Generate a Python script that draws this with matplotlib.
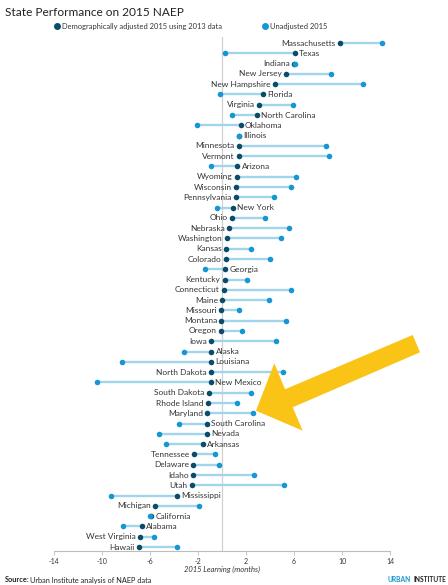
import matplotlib
matplotlib.use("Agg")
import matplotlib.pyplot as plt
from matplotlib.lines import Line2D
from matplotlib.patches import Polygon

plt.rcParams['font.family'] = ['Lato', 'DejaVu Sans']

states = ["Massachusetts", "Texas", "Indiana", "New Jersey", "New Hampshire", "Florida",
          "Virginia", "North Carolina", "Oklahoma", "Illinois", "Minnesota", "Vermont",
          "Arizona", "Wyoming", "Wisconsin", "Pennsylvania", "New York", "Ohio", "Nebraska",
          "Washington", "Kansas", "Colorado", "Georgia", "Kentucky", "Connecticut", "Maine",
          "Missouri", "Montana", "Oregon", "Iowa", "Alaska", "Louisiana", "North Dakota",
          "New Mexico", "South Dakota", "Rhode Island", "Maryland", "South Carolina", "Nevada",
          "Arkansas", "Tennessee", "Delaware", "Idaho", "Utah", "Mississippi", "Michigan",
          "California", "Alabama", "West Virginia", "Hawaii"]

adjusted = [9.83, 6.06, 6.0, 5.33, 4.39, 3.39,
            3.06, 2.89, 1.56, 1.45, 1.39, 1.39,
            1.28, 1.22, 1.17, 1.17, 0.89, 0.83, 0.61,
            0.39, 0.33, 0.33, 0.28, 0.22, 0.17, 0.0,
            -0.06, -0.06, -0.11, -0.89, -0.89, -0.89, -0.94,
            -0.94, -1.11, -1.17, -1.22, -1.28, -1.28,
            -1.56, -2.33, -2.39, -2.39, -2.5, -3.72, -5.56,
            -5.89, -6.67, -6.83, -6.94]

unadjusted = [13.33, 0.22, 6.11, 9.06, 11.78, -0.17,
              5.94, 0.83, -2.06, 1.39, 8.67, 8.89,
              -0.89, 6.17, 5.78, 4.33, -0.39, 3.61, 5.56,
              4.89, 2.39, 4.0, -1.39, 2.11, 5.78, 3.94,
              1.39, 5.33, 1.67, 4.5, -3.17, -8.33, 5.11,
              -10.44, 2.44, 1.28, 2.61, -3.56, -5.28,
              -4.67, -0.61, -0.22, 2.67, 5.17, -9.22, -1.94,
              -6.0, -8.28, -5.67, -3.78]

xticks = [-14, -10, -6, -2, 2, 6, 10, 14]
xtick_labels = ["-14", "-10", "-6", "-2", "2", "6", "10", "14"]

DARK = '#0a4c6a'
LIGHT = '#1696d2'
LINE = '#a2d4ec'
TEXT = '#353535'

W, H = 448, 585
fig = plt.figure(figsize=(W / 100, H / 100), dpi=100)
ax = fig.add_axes([54 / W, 1 - 551 / H, 336 / W, (551 - 37) / H])

n = len(states)
ys = list(range(n))
row = (547 - 43) / 49
ax.set_xlim(-14, 14)
ax.set_ylim(49 + (551 - 547) / row, -(43 - 37) / row)

ax.axvline(0, color='#d0d0d0', lw=0.9, zorder=0)
for y, a, u in zip(ys, adjusted, unadjusted):
    ax.plot([a, u], [y, y], color=LINE, lw=1.7, solid_capstyle='butt', zorder=1)
ax.scatter(adjusted, ys, s=16, color=DARK, zorder=2, linewidths=0)
ax.scatter(unadjusted, ys, s=16, color=LIGHT, zorder=3, linewidths=0)

for y, a, u, name in zip(ys, adjusted, unadjusted, states):
    if a <= u:
        ax.annotate(name, (min(a, u), y), xytext=(-3, 0), textcoords='offset points',
                    ha='right', va='center', fontsize=6, color=TEXT, zorder=4)
    else:
        ax.annotate(name, (max(a, u), y), xytext=(3, 0), textcoords='offset points',
                    ha='left', va='center', fontsize=6, color=TEXT, zorder=4)

for s in ['top', 'right', 'left']:
    ax.spines[s].set_visible(False)
ax.spines['bottom'].set_color('#bdbdbd')
ax.spines['bottom'].set_linewidth(0.8)
ax.set_yticks([])
ax.set_xticks(xticks)
ax.set_xticklabels(xtick_labels, fontsize=5, color=TEXT)
ax.tick_params(axis='x', length=3, width=0.6, color='#bdbdbd', pad=2)

fig.text(222 / W, 1 - 569 / H, "2015 Learning (months)", fontsize=5.5, style='italic',
         ha='center', va='center', color=TEXT)

# Title
fig.text(5 / W, 1 - 12 / H, "State Performance on 2015 NAEP", fontsize=8.6,
         ha='left', va='center', color='#222222')

# Legend
fig.add_artist(Line2D([57 / W], [1 - 26 / H], marker='o', markersize=4, color=DARK,
                      linestyle='none', transform=fig.transFigure))
fig.text(62 / W, 1 - 26 / H, "Demographically adjusted 2015 using 2013 data", fontsize=5.4,
         ha='left', va='center', color=TEXT)
fig.add_artist(Line2D([265 / W], [1 - 26 / H], marker='o', markersize=4, color=LIGHT,
                      linestyle='none', transform=fig.transFigure))
fig.text(270 / W, 1 - 26 / H, "Unadjusted 2015", fontsize=5.4,
         ha='left', va='center', color=TEXT)

# Source
fig.text(5 / W, 1 - 580 / H, "Source:", fontsize=5.3, fontweight='bold',
         ha='left', va='center', color='#222222')
fig.text(30 / W, 1 - 580 / H, "Urban Institute analysis of NAEP data", fontsize=5.3,
         ha='left', va='center', color='#222222')
inst = fig.text(446 / W, 1 - 580 / H, "INSTITUTE", fontsize=4.8, fontweight='bold',
                ha='right', va='center', color='#222222')
renderer = fig.canvas.get_renderer()
bb = inst.get_window_extent(renderer=renderer)
fig.text((bb.x0 - 2) / W, 1 - 580 / H, "URBAN", fontsize=4.8, fontweight='bold',
         ha='right', va='center', color=LIGHT)

# Yellow arrow annotation pointing at Maryland
arrow_px = [(412.7, 335), (420, 352.3), (292.7, 407.3), (302.7, 430.7),
            (256, 410.7), (274.3, 363.3), (285, 389.3)]
arrow = Polygon([(x / W, 1 - y / H) for x, y in arrow_px], closed=True,
                facecolor='#f9c416', edgecolor='none', transform=fig.transFigure, zorder=10)
fig.add_artist(arrow)

fig.savefig("out.png", dpi=100)
